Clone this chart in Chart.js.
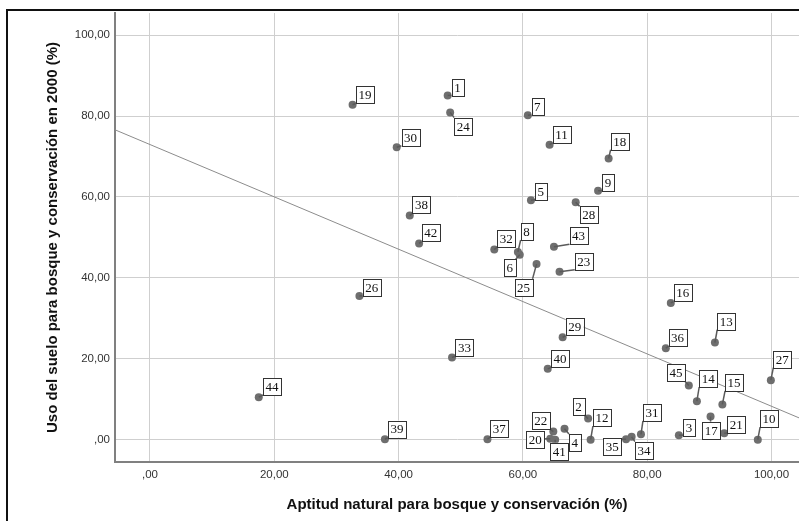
<!DOCTYPE html>
<html>
<head>
<meta charset="utf-8">
<script src="https://cdn.jsdelivr.net/npm/chart.js@4.4.1/dist/chart.umd.min.js"></script>
<style>
  html, body { margin: 0; padding: 0; background: #fff; overflow: hidden; }
  #frame { position: absolute; left: 6px; top: 9px; width: 900px; height: 700px; border: 2px solid #111; }
  #chart { position: absolute; left: 0; top: 0; }
</style>
</head>
<body>
<div id="frame"></div>
<canvas id="chart" width="799" height="521"></canvas>
<script>
// case numbers 1..45 and values
var caseIds = [1, 2, 3, 4, 5, 6, 7, 8, 9, 10, 11, 12, 13, 14, 15, 16, 17, 18, 19, 20, 21, 22, 23,
    24, 25, 26, 27, 28, 29, 30, 31, 32, 33, 34, 35, 36, 37, 38, 39, 40, 41, 42, 43, 44, 45];
var aptitud = [47.9, 70.5, 85.1, 66.7, 61.3, 59.5, 60.8, 59.2, 72.1, 97.8, 64.3, 70.9, 90.9, 88.0,
    92.1, 83.8, 90.2, 73.8, 32.6, 64.4, 92.4, 64.9, 65.9, 48.3, 62.2, 33.7, 99.9, 68.5, 66.4, 39.7,
    79.0, 55.4, 48.6, 77.5, 76.6, 83.0, 54.3, 41.8, 37.8, 64.0, 65.2, 43.3, 65.0, 17.5, 86.7];
var usoSuelo = [85.1, 5.2, 1.1, 2.7, 59.2, 45.7, 80.2, 46.4, 61.5, 0.0, 72.9, 0.0, 24.0, 9.5,
    8.7, 33.8, 5.7, 69.5, 82.8, 0.2, 1.6, 2.0, 41.5, 80.9, 43.4, 35.5, 14.7, 58.7, 25.3, 72.3,
    1.3, 47.0, 20.3, 0.7, 0.1, 22.6, 0.1, 55.4, 0.1, 17.5, 0.0, 48.5, 47.7, 10.5, 13.4];

// fit line
var fitIntercept = 72.95;
var fitSlope = -0.647;

var tickValues = [0, 20, 40, 60, 80, 100];
var xTickLabels = [',00', '20,00', '40,00', '60,00', '80,00', '100,00'];
var yTickLabels = [',00', '20,00', '40,00', '60,00', '80,00', '100,00'];

var xMin = -5.63, xMax = 104.43;
var yMin = -5.53, yMax = 105.47;

// where each case label box sits relative to its point (pixels)
var labelOffsets = [[9.8, -8.3], [-9.7, -12], [10.1, -7.5], [10.2, 13.7], [9.8, -8.8], [-10, 13.2],
    [9.5, -9], [8.5, -20.4], [9.8, -8.7], [11.3, -21], [11.9, -10.6], [11.3, -22], [11.3, -21.3],
    [11.3, -22.7], [11.7, -22], [12, -10], [0.7, 13.7], [11, -17.3], [12.3, -10], [-15, 0.8],
    [12, -8.7], [-12.5, -11], [24.3, -10.5], [13, 13.7], [-13, 23.3], [12.4, -8.7], [11.5, -21],
    [13, 12.7], [12, -10.3], [13.8, -10], [11, -22], [12, -11], [12.4, -10], [12.3, 13.4],
    [-13.7, 7], [11.8, -10.7], [11.7, -10.7], [11.7, -10.6], [12, -10.2], [12.3, -10], [4, 11.7],
    [11.7, -10.5], [24.6, -11], [13.3, -10.7], [-12.9, -12.7]];

var points = caseIds.map(function(id, i) {
    return { x: aptitud[i], y: usoSuelo[i] };
});
var fitPoints = [xMin, xMax].map(function(x) {
    return { x: x, y: fitIntercept + fitSlope * x };
});

var caseLabels = {
    id: 'caseLabels',
    afterDatasetsDraw: function(chart) {
        var ctx = chart.ctx;
        var meta = chart.getDatasetMeta(0);
        ctx.save();
        ctx.font = '13px "Liberation Serif", "Times New Roman", serif';
        ctx.textAlign = 'center';
        ctx.textBaseline = 'middle';
        meta.data.forEach(function(pt, i) {
            var txt = String(caseIds[i]);
            var w = ctx.measureText(txt).width + 5;
            var h = 17;
            var cx = pt.x + labelOffsets[i][0];
            var cy = pt.y + labelOffsets[i][1];
            var bx = cx - w / 2, by = cy - h / 2;
            var nx = Math.min(Math.max(pt.x, bx), bx + w);
            var ny = Math.min(Math.max(pt.y, by), by + h);
            ctx.strokeStyle = '#5a5a5a';
            ctx.lineWidth = 1.5;
            ctx.beginPath();
            ctx.moveTo(pt.x, pt.y);
            ctx.lineTo(nx, ny);
            ctx.stroke();
            ctx.fillStyle = '#fff';
            ctx.fillRect(bx, by, w, h);
            ctx.strokeStyle = '#333';
            ctx.lineWidth = 1;
            ctx.strokeRect(Math.round(bx) + 0.5, Math.round(by) + 0.5, Math.round(w), h);
            ctx.fillStyle = '#111';
            ctx.fillText(txt, cx, cy + 1);
        });
        ctx.restore();
    }
};

var tickFont = { family: '"Liberation Sans", Arial, sans-serif', size: 11.5 };
var titleFont = { family: '"Liberation Sans", Arial, sans-serif', size: 15, weight: 'bold' };

new Chart(document.getElementById('chart').getContext('2d'), {
    type: 'scatter',
    data: {
        datasets: [{
            data: points,
            pointRadius: 4,
            pointHoverRadius: 4,
            backgroundColor: '#6e6e6e',
            borderWidth: 0
        }, {
            type: 'line',
            data: fitPoints,
            borderColor: '#8c8c8c',
            borderWidth: 1,
            pointRadius: 0,
            fill: false
        }]
    },
    options: {
        responsive: false,
        animation: false,
        devicePixelRatio: 1,
        layout: { autoPadding: false, padding: { top: 13, right: 0, bottom: 0, left: 0 } },
        plugins: {
            legend: { display: false },
            tooltip: { enabled: false }
        },
        scales: {
            x: {
                type: 'linear',
                min: xMin,
                max: xMax,
                afterBuildTicks: function(s) {
                    s.ticks = tickValues.map(function(v) { return { value: v }; });
                },
                afterFit: function(s) {
                    s.height = 59;
                    s.paddingLeft = 0;
                    s.paddingRight = 0;
                },
                grid: { color: '#cfcfcf', lineWidth: 1, drawTicks: false },
                border: { color: '#808080', width: 2 },
                ticks: {
                    padding: 6,
                    color: '#333',
                    font: tickFont,
                    maxRotation: 0,
                    callback: function(v) { return xTickLabels[tickValues.indexOf(v)]; }
                },
                title: {
                    display: true,
                    text: 'Aptitud natural para bosque y conservación (%)',
                    color: '#111',
                    font: titleFont,
                    padding: { top: 0, bottom: 7 }
                }
            },
            y: {
                type: 'linear',
                min: yMin,
                max: yMax,
                afterBuildTicks: function(s) {
                    s.ticks = tickValues.map(function(v) { return { value: v }; });
                },
                afterFit: function(s) {
                    s.width = 115;
                    s.paddingTop = 0;
                    s.paddingBottom = 0;
                },
                grid: { color: '#cfcfcf', lineWidth: 1, drawTicks: false },
                border: { color: '#808080', width: 2 },
                ticks: {
                    padding: 5,
                    color: '#333',
                    font: tickFont,
                    callback: function(v) { return yTickLabels[tickValues.indexOf(v)]; }
                },
                title: {
                    display: true,
                    text: 'Uso del suelo para bosque y conservación en 2000 (%)',
                    color: '#111',
                    font: titleFont,
                    padding: { top: 44, bottom: 0 }
                }
            }
        }
    },
    plugins: [caseLabels]
});
</script>
</body>
</html>
